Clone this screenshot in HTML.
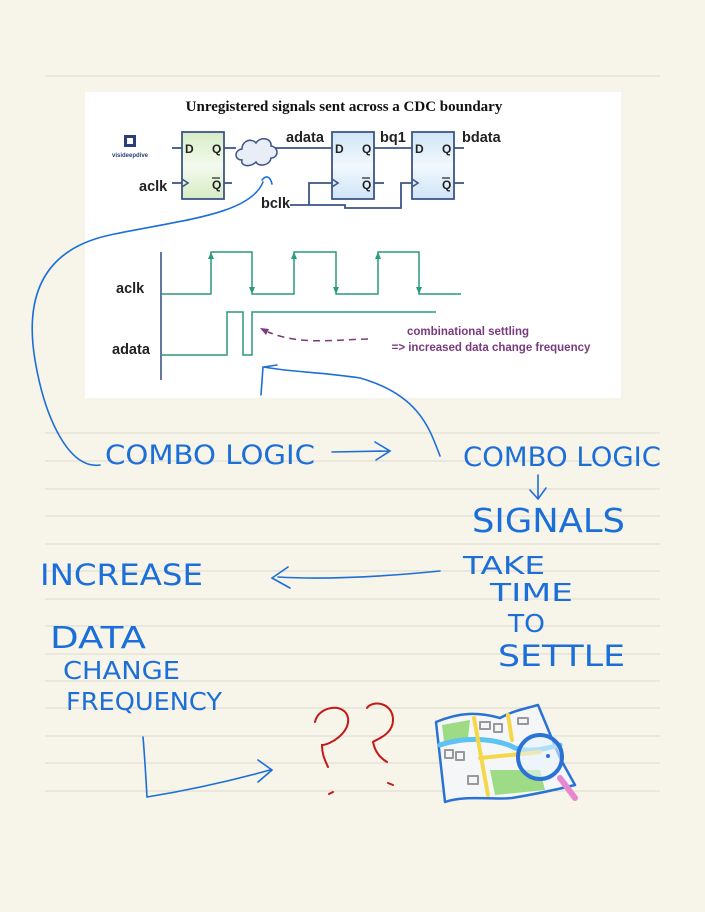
<!DOCTYPE html>
<html><head><meta charset="utf-8"><style>
html,body{margin:0;padding:0;background:#f7f4e9;}
svg{display:block}
.h{font-family:"DejaVu Sans",sans-serif;fill:#1c6fd8;font-weight:normal;}
.b{font-family:"Liberation Sans",sans-serif;font-weight:bold;fill:#222;}
</style></head><body>
<svg width="705" height="912" viewBox="0 0 705 912" xmlns="http://www.w3.org/2000/svg">
<rect width="705" height="912" fill="#f7f4e9"/>
<g stroke="#dedbd0" stroke-width="1">
<line x1="45" y1="76" x2="660" y2="76"/>
<line x1="45" y1="433" x2="660" y2="433"/><line x1="45" y1="461" x2="660" y2="461"/>
<line x1="45" y1="489" x2="660" y2="489"/><line x1="45" y1="516" x2="660" y2="516"/>
<line x1="45" y1="544" x2="660" y2="544"/><line x1="45" y1="571" x2="660" y2="571"/>
<line x1="45" y1="599" x2="660" y2="599"/><line x1="45" y1="626" x2="660" y2="626"/>
<line x1="45" y1="654" x2="660" y2="654"/><line x1="45" y1="681" x2="660" y2="681"/>
<line x1="45" y1="708" x2="660" y2="708"/><line x1="45" y1="736" x2="660" y2="736"/>
<line x1="45" y1="763" x2="660" y2="763"/><line x1="45" y1="791" x2="660" y2="791"/>
</g>
<rect x="85" y="92" width="536" height="306" fill="#ffffff"/>
<text x="344" y="111" text-anchor="middle" font-family="Liberation Serif,serif" font-weight="bold" font-size="15" fill="#111">Unregistered signals sent across a CDC boundary</text>
<rect x="124" y="135" width="12" height="12" fill="#2a3f7a"/><rect x="127" y="138" width="6" height="6" fill="#fff"/>
<text x="130" y="157" text-anchor="middle" font-family="Liberation Sans,sans-serif" font-weight="bold" font-size="6" fill="#2a3f7a">visideepdive</text>
<g stroke="#3d5588" stroke-width="1.8" fill="none">
<line x1="172" y1="148" x2="182" y2="148"/><line x1="172" y1="183" x2="182" y2="183"/>
<line x1="224" y1="148" x2="236" y2="148"/><line x1="224" y1="183" x2="232" y2="183"/>
<line x1="275" y1="148" x2="332" y2="148"/>
<line x1="374" y1="148" x2="412" y2="148"/><line x1="374" y1="183" x2="384" y2="183"/>
<line x1="454" y1="148" x2="464" y2="148"/><line x1="454" y1="183" x2="464" y2="183"/>
<polyline points="290,205 345,205 345,208 401,208 401,183 412,183"/>
<polyline points="309,205 309,183 332,183"/>
</g>
<defs><linearGradient id="g1" x1="0" y1="0" x2="0" y2="1"><stop offset="0" stop-color="#d6ecc4"/><stop offset="0.5" stop-color="#f4faee"/><stop offset="1" stop-color="#d6ecc4"/></linearGradient>
<linearGradient id="g2" x1="0" y1="0" x2="0" y2="1"><stop offset="0" stop-color="#cfe5f7"/><stop offset="0.5" stop-color="#f2f8fd"/><stop offset="1" stop-color="#cfe5f7"/></linearGradient></defs>
<rect x="182" y="132" width="42" height="67" fill="url(#g1)" stroke="#3d5588" stroke-width="1.8"/>
<rect x="332" y="132" width="42" height="67" fill="url(#g2)" stroke="#3d5588" stroke-width="1.8"/>
<rect x="412" y="132" width="42" height="67" fill="url(#g2)" stroke="#3d5588" stroke-width="1.8"/>
<g class="b" font-size="12">
<text x="185" y="153">D</text><text x="212" y="153">Q</text><text x="212" y="189">Q</text>
<text x="335" y="153">D</text><text x="362" y="153">Q</text><text x="362" y="189">Q</text>
<text x="415" y="153">D</text><text x="442" y="153">Q</text><text x="442" y="189">Q</text>
</g>
<g stroke="#222" stroke-width="1.2"><line x1="212" y1="178" x2="220" y2="178"/><line x1="362" y1="178" x2="370" y2="178"/><line x1="442" y1="178" x2="450" y2="178"/></g>
<g fill="none" stroke="#3d5588" stroke-width="1.6"><polyline points="182,179 188,183 182,187"/><polyline points="332,179 338,183 332,187"/><polyline points="412,179 418,183 412,187"/></g>
<path d="M242,160 C234,160 234,150 242,149 C242,140 252,138 256,143 C260,136 272,138 271,146 C279,147 279,158 271,158 C270,166 258,167 256,162 C250,168 240,166 242,160 Z" fill="#e9eef6" stroke="#3d5588" stroke-width="1.5"/>
<g class="b" font-size="14.5">
<text x="139" y="191">aclk</text><text x="286" y="142">adata</text><text x="380" y="142">bq1</text><text x="462" y="142">bdata</text><text x="261" y="208">bclk</text>
<text x="116" y="293">aclk</text><text x="112" y="354">adata</text>
</g>
<line x1="161" y1="252" x2="161" y2="380" stroke="#3d5588" stroke-width="1.6"/>
<g stroke="#2a9a7c" stroke-width="1.5" fill="none">
<polyline points="161,294 211,294 211,252 252,252 252,294 294,294 294,252 336,252 336,294 378,294 378,252 419,252 419,294 461,294"/>
<polyline points="161,355 227,355 227,312 243,312 243,355 252,355 252,312 436,312"/>
</g>
<g fill="#2a9a7c"><path d="M211,252 l-3,7 h6z"/><path d="M294,252 l-3,7 h6z"/><path d="M378,252 l-3,7 h6z"/>
<path d="M252,294 l-3,-7 h6z"/><path d="M336,294 l-3,-7 h6z"/><path d="M419,294 l-3,-7 h6z"/></g>
<path d="M368,339 C330,340 300,345 268,332" stroke="#7a3a7e" stroke-width="1.5" fill="none" stroke-dasharray="7,5"/>
<path d="M260,328 l9,1 -3,6z" fill="#7a3a7e"/>
<g font-family="Liberation Sans,sans-serif" font-weight="bold" font-size="11.5" fill="#7a3a7e" text-anchor="middle">
<text x="468" y="335">combinational settling</text><text x="491" y="351">=&gt; increased data change frequency</text></g>
<g stroke="#1c6fd8" stroke-width="1.6" fill="none" stroke-linecap="round">
<path d="M262,180 C266,175 270,176 272,184"/>
<path d="M263,182 C250,215 180,220 110,235 C40,250 25,300 35,360 C45,420 70,470 100,465"/>
<path d="M440,456 C430,430 420,395 360,378 C320,372 290,372 264,367"/>
<path d="M263,367 L261,395"/><path d="M264,367 L277,365"/>
<path d="M332,452 L388,451 M375,442 L390,451 L376,460"/>
<path d="M538,475 L538,498 M530,490 L538,499 L546,488"/>
<path d="M440,571 C390,576 330,580 278,577 M288,567 L272,578 L290,588"/>
<path d="M143,737 C145,760 146,780 147,797 C190,790 230,781 270,770 M258,760 L272,770 L258,782"/>
</g>
<g class="h">
<text x="105" y="464" font-size="27" textLength="210" lengthAdjust="spacingAndGlyphs">COMBO LOGIC</text>
<text x="463" y="466" font-size="27" textLength="198" lengthAdjust="spacingAndGlyphs">COMBO LOGIC</text>
<text x="472" y="532" font-size="33" textLength="153" lengthAdjust="spacingAndGlyphs">SIGNALS</text>
<text x="40" y="585" font-size="29" textLength="163" lengthAdjust="spacingAndGlyphs">INCREASE</text>
<text x="463" y="574" font-size="25" textLength="82" lengthAdjust="spacingAndGlyphs">TAKE</text>
<text x="490" y="601" font-size="25" textLength="83" lengthAdjust="spacingAndGlyphs">TIME</text>
<text x="508" y="632" font-size="25" textLength="37" lengthAdjust="spacingAndGlyphs">TO</text>
<text x="498" y="666" font-size="29" textLength="127" lengthAdjust="spacingAndGlyphs">SETTLE</text>
<text x="50" y="648" font-size="30" textLength="96" lengthAdjust="spacingAndGlyphs">DATA</text>
<text x="63" y="679" font-size="25" textLength="117" lengthAdjust="spacingAndGlyphs">CHANGE</text>
<text x="66" y="710" font-size="25" textLength="156" lengthAdjust="spacingAndGlyphs">FREQUENCY</text>
</g>
<g stroke="#c41818" stroke-width="2" fill="none" stroke-linecap="round">
<path d="M315,722 C318,706 345,702 348,718 C350,733 330,745 322,745 C322,755 325,760 328,767"/>
<path d="M367,708 C372,700 393,702 393,720 C393,735 375,740 373,742 C375,752 380,758 387,762"/>
<path d="M329,794 L333,792"/><path d="M388,783 L393,785"/>
</g>
<g stroke-linejoin="round" stroke-linecap="round">
<path d="M436,722 C460,712 478,712 500,718 C515,710 528,708 538,705 L560,758 L575,785 C555,790 530,795 512,798 C490,800 465,795 445,802 Z" fill="#f4f6f8" stroke="#2a72d4" stroke-width="2.5"/>
<path d="M442,725 L470,720 L468,738 L444,742Z" fill="#9ddb86"/>
<path d="M490,770 L540,770 L545,790 L495,795Z" fill="#9ddb86"/>
<path d="M440,745 C470,735 500,740 515,748 C530,752 540,750 560,745" stroke="#5ec3f2" stroke-width="5" fill="none"/>
<path d="M474,718 L488,795" stroke="#f5d84a" stroke-width="4" fill="none"/>
<path d="M508,715 L512,740" stroke="#f5d84a" stroke-width="4" fill="none"/>
<path d="M480,758 L540,752" stroke="#f5d84a" stroke-width="4" fill="none"/>
<g fill="none" stroke="#999" stroke-width="2"><rect x="480" y="722" width="10" height="7"/><rect x="494" y="724" width="8" height="8"/><rect x="518" y="718" width="10" height="6"/><rect x="445" y="750" width="8" height="8"/><rect x="456" y="752" width="8" height="8"/><rect x="468" y="776" width="10" height="8"/></g>
<path d="M560,778 L575,798" stroke="#e687d0" stroke-width="6"/>
<circle cx="540" cy="757" r="22" fill="#e8f3fb" fill-opacity="0.6" stroke="#2a72d4" stroke-width="4"/>
<circle cx="548" cy="756" r="2" fill="#2a72d4"/>
</g>
</svg>
</body></html>
